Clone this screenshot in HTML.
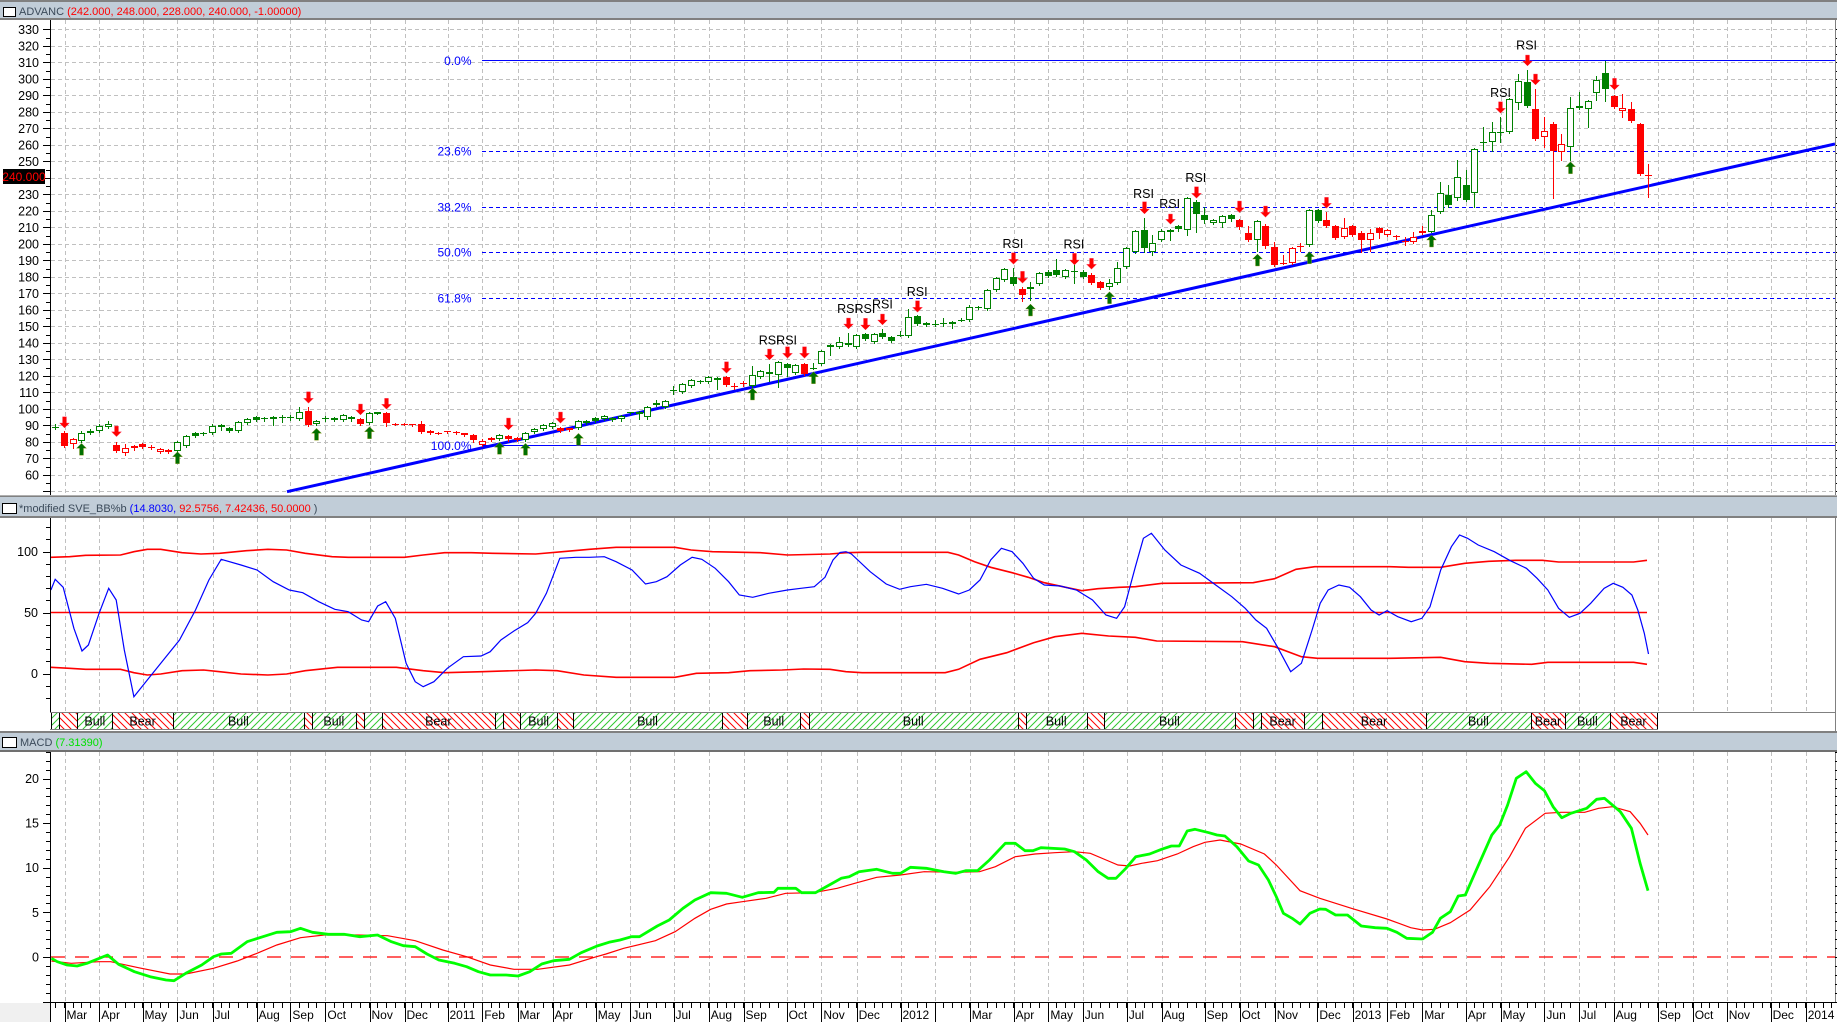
<!DOCTYPE html>
<html><head><meta charset="utf-8">
<style>
html,body{margin:0;padding:0;background:#fff;}
svg{display:block;font-family:"Liberation Sans",Arial,sans-serif;}
</style></head><body>
<svg id="c" width="1837" height="1022" viewBox="0 0 1837 1022" xmlns="http://www.w3.org/2000/svg">
<defs>
<pattern id="hg" width="7" height="7" patternUnits="userSpaceOnUse"><path d="M0,7 L7,0 M-1,1 L1,-1 M6,8 L8,6" stroke="#30c830" stroke-width="1"/></pattern>
<pattern id="hr" width="7" height="7" patternUnits="userSpaceOnUse"><path d="M0,0 L7,7 M-1,6 L1,8 M6,-1 L8,1" stroke="#ff0000" stroke-width="1"/></pattern>
<clipPath id="cp1"><rect x="51" y="20" width="1784" height="475"/></clipPath>
</defs>
<rect width="1837" height="1022" fill="#fff"/>
<g id="grid" shape-rendering="crispEdges"></g>

<!-- Fibonacci lines -->
<g stroke="#0000ff" stroke-width="1" shape-rendering="crispEdges">
<line x1="482" y1="60.5" x2="1835" y2="60.5"/>
<line x1="482" y1="151.5" x2="1835" y2="151.5" stroke-dasharray="4,3"/>
<line x1="482" y1="207.5" x2="1835" y2="207.5" stroke-dasharray="4,3"/>
<line x1="482" y1="252.5" x2="1835" y2="252.5" stroke-dasharray="4,3"/>
<line x1="482" y1="298.5" x2="1835" y2="298.5" stroke-dasharray="4,3"/>
<line x1="482" y1="445.5" x2="1835" y2="445.5"/>
</g>
<!-- trendline -->
<g clip-path="url(#cp1)"><line x1="287" y1="491.7" x2="1835" y2="144" stroke="#0000ff" stroke-width="3"/></g>

<g id="candles" shape-rendering="crispEdges"></g>
<g id="arrows"></g>

<!-- SVE panel lines -->
<line x1="51" y1="612.5" x2="1647" y2="612.5" stroke="#ff0000" stroke-width="1.6"/>
<polyline fill="none" stroke="#ff0000" stroke-width="1.6" points="50.9,557.3 69.6,556.7 85.7,555.3 120.5,555 133.9,551.7 147.3,549.3 160.7,549.3 182.1,552.7 200.9,554 219.6,553.3 246.4,550.7 267.9,549.3 286.6,550 305.3,553.3 332.1,556.7 348.2,557.3 404.5,557.3 423.2,555 444.6,552.7 471.4,552.7 492.8,553.3 535.7,554 562.5,551.7 589.3,549.3 616.1,547.3 675,547.3 691.1,550 712.5,551.7 760.7,552.7 787.5,555 830,554 846,552.7 862.1,552.3 947.9,552.3 958.6,555 974.6,561.7 990.7,567.3 1012.1,572.7 1028.2,577.3 1044.3,582.7 1065.7,587.3 1081.8,590.7 1097.9,588.7 1119.3,587.3 1135.4,586.7 1162.1,583.3 1253.2,582.7 1274.6,578.7 1296,569.3 1314.8,566.7 1389.8,566.7 1408.5,567.3 1440.7,567.3 1464.8,563.3 1488.8,561.3 1515.7,560.3 1542.5,560.3 1558.6,562 1633.6,562 1647,560.3"/>
<polyline fill="none" stroke="#ff0000" stroke-width="1.6" points="50.9,667.3 69.6,668.3 85.7,669.3 120.5,669.3 133.9,672.7 147.3,675 160.7,674 182.1,670.7 203.6,670 219.6,671.7 241.1,674 267.9,675 286.6,674 305.3,670.7 337.5,667.3 396.4,667.3 423.2,670.7 444.6,672.7 482.1,671.7 535.7,670 557.1,670.7 583.9,675 616.1,677.3 675,677.3 696.4,673.3 728.6,672.7 750,670.7 782.1,670 803.6,669 830,669.3 846,671.7 862.1,672.7 945.2,672.7 958.6,669.3 980,659.3 1006.8,652.7 1033.6,642.7 1055,636.7 1081.8,633.3 1108.6,636 1135.4,637.3 1156.8,641 1242.5,641.7 1274.6,646.7 1301.4,656.7 1317.5,658.3 1389.8,658.3 1440.7,657.3 1464.8,661.7 1488.8,663.3 1531.7,664.3 1547.8,662.3 1633.6,662.3 1647,664.3"/>
<polyline fill="none" stroke="#0000ff" stroke-width="1.2" points="50.9,590 55.2,579.3 63.2,587.3 73.9,628.3 82,651 88.4,645 99.1,613.3 108.7,588.3 116.2,600 124.3,650 133.9,696.7 147.3,680 163.4,660 179.5,640 195.5,610 208.9,580 221.2,559.3 241,565 257.1,570 273.2,581.7 289.3,590 302.7,592.7 318.7,601.7 334.8,609.3 348.2,611.7 361.6,620 368.6,621.7 377.7,606 385.7,601.7 395.3,618.3 406.1,663.3 415.2,681.7 423.2,686.7 433.9,681.7 447.3,668.3 463.4,656.7 481.1,656 490.2,651.7 500.9,640 514.3,630.7 527.7,622.7 535.7,613.3 546.4,593.3 559.8,558.3 575.9,557.3 589.3,557.3 604.3,556.7 616.1,561.7 632.1,570 645.5,584 656.3,581.7 667,576.7 680.3,565 692.1,557.3 701.8,559.3 715.2,568.3 728.6,581.7 739.3,595 752.7,597.3 768.7,593.3 787.5,590 800.9,588.3 814.3,586.7 825,577.3 833,560 840,552.5 846,551.7 851.4,554 870.2,571.7 886.2,584 899.6,589.3 910.4,586.7 926.4,584.3 942.5,588.3 958.6,594 969.3,590 980,580 990.7,560 1001.4,548.3 1012.1,551.7 1022.9,563.3 1033.6,578.3 1044.3,585 1060.3,586 1076.4,590 1092.5,600 1105.9,615 1116.6,618.3 1124.6,606.7 1135.4,566.7 1143.4,538.3 1151.4,533.3 1164.8,550 1180.9,565 1199.6,573.3 1215.7,585 1231.8,596.7 1245.2,608.3 1255.9,620 1266.6,628.3 1277.3,646.7 1290.7,671.7 1301.4,663.3 1312.1,630 1320.2,603.3 1328.2,590 1338.9,585 1349.6,587.3 1360.4,596.7 1371.1,610 1379.1,615 1387.1,610.7 1397.8,616.7 1411.2,621.7 1421.9,618.3 1430,606.7 1440.7,570 1451.4,546.7 1459.5,535 1467.5,538.3 1478.2,545 1494.3,551.7 1510.3,560.7 1526.4,568.3 1537.1,578.3 1547.8,590 1558.6,608.3 1569.3,617.3 1580,613.3 1590.7,603.3 1604.1,588.3 1613.2,583.3 1622.9,587.3 1631.9,595 1637.8,610 1644.3,633.3 1648.5,654"/>

<g id="band" shape-rendering="crispEdges"></g>

<!-- MACD -->
<line x1="51" y1="957" x2="1835" y2="957" stroke="#ff0000" stroke-width="1.3" stroke-dasharray="14,10"/>
<polyline fill="none" stroke="#ff0000" stroke-width="1.2" points="51.4,961 71.2,963.3 98.9,961.7 110.7,961.7 138.4,967.7 170,974 185.8,974 213.5,968.3 237.2,961 257,953.3 276.8,945 300.5,937.7 324.2,935 355.9,935 387.5,935.7 415.2,940.7 442.8,950 466.6,956.7 490.3,965 514,969.3 537.7,969.3 569.4,965 593.1,957.7 606,954 623.7,948.3 655.4,940.7 675.1,931.7 694.9,918.3 710.7,909.3 726.5,904 742.3,901.7 766.1,898.3 785.8,893.3 813.5,892.7 837.2,888.3 857,882.7 876.8,877.3 900.5,875 924.2,871.7 955.9,872.3 979.6,871.7 995.4,866.7 1015.2,856.7 1035,854 1054.7,852.7 1074.5,851.7 1090.3,853.3 1106.1,860 1118,865 1129.8,866 1141.7,863.3 1157.5,860.7 1177.3,854 1193.1,846.7 1205,842.3 1220,840 1240.7,844 1264.4,854 1276.3,865 1300,890.7 1319.8,898.3 1351.4,908.3 1387,919 1410.7,927.7 1422.6,930 1434.5,929.3 1450.3,922.7 1470.1,910 1489.8,886.7 1509.6,856.7 1525.4,828.3 1545.2,813.3 1561,812.3 1584.7,812.3 1598.6,808.3 1612.4,806.7 1630.2,811.7 1640.1,823.3 1648,835"/>
<polyline fill="none" stroke="#00ff00" stroke-width="2.8" stroke-linejoin="round" points="51.4,958.3 57.3,961.7 67.2,965 77.1,966 87,963.3 96.9,959.3 107.5,955 118.6,964.3 134.4,971.7 150.2,976.7 166.1,980 174,980.7 185.8,973.3 201.7,965 213.5,956.7 221.4,954 231.3,953.3 247.1,941.7 262.9,936.7 276.8,932.3 290.6,931.7 300.5,928.3 312.4,932.3 328.2,934.3 344,934.3 359.8,936.7 377.6,935 391.4,941.7 403.3,945.7 415.2,946.7 427,954 438.9,960 454.7,963.3 466.6,966.7 478.4,971.7 490.3,975 506.1,975 518,976 529.8,971.7 541.7,964 553.6,960.7 569.4,959.3 581.2,952.7 597.1,946 608.9,942.3 620,940 631.6,936.7 639.5,936.7 657.3,926 669.2,920 683,908.3 694.9,900 710.7,892.7 726.5,893.3 742.3,897.3 758.2,892.7 774,892.3 777.9,888.3 795.7,888.3 801.7,892.7 815.5,892.7 829.3,885 841.2,878.3 849.1,876.7 859,871.7 876.8,869.3 892.6,873.3 900.5,873.3 910.4,867.3 926.2,868.3 944,871.7 955.9,873.3 965.7,870.7 977.6,870.7 989.5,860 1005.3,843.3 1015.2,843.3 1025.1,850.7 1033,850.7 1040.9,847.7 1064.6,849 1074.5,851.7 1086.3,860 1098.2,871.7 1108.1,878.3 1116,878.3 1125.9,868.3 1135.8,856.7 1149.6,854 1161.5,849.3 1171.4,846 1179.3,846 1187.2,831 1195.1,829.3 1208.9,832.7 1217,835 1224.9,836 1236.8,846.7 1248.6,861 1258.5,865 1268.4,880 1276.3,896.7 1283.4,913.3 1292.1,918.3 1300,924 1309.9,913.3 1319.8,909 1325.7,909.3 1335.6,915 1347.5,915 1361.3,926 1375.2,927.7 1387,928.3 1396.9,932.3 1406.8,938.3 1422.6,939 1432.5,932.3 1440.4,918.3 1450.3,911.7 1458.2,896 1465.3,895 1476,870.7 1491.8,835 1499.7,825 1507.6,805 1516.3,778.3 1526.2,771.7 1535.3,783.3 1544.4,790.7 1553.1,806.7 1561.8,817.7 1570.9,813.3 1586.7,808.3 1596.6,799.3 1604.5,798.3 1620.3,811.7 1631.4,828.3 1640.1,863.3 1648,890.7"/>

<g id="axes" shape-rendering="crispEdges"></g>

<!-- Title bars -->
<g shape-rendering="crispEdges">
<rect x="0" y="0" width="1837" height="2" fill="#808080"/>
<rect x="0" y="2" width="1837" height="16" fill="#c1cdd8"/>
<rect x="0" y="18" width="1837" height="2" fill="#808080"/>
<rect x="3.5" y="7.5" width="12" height="9" fill="#fff" stroke="#000"/>

<rect x="0" y="495" width="1837" height="1" fill="#b0b0b0"/>
<rect x="0" y="496" width="1837" height="1" fill="#808080"/>
<rect x="0" y="497" width="1837" height="19" fill="#c1cdd8"/>
<rect x="0" y="516" width="1837" height="2" fill="#808080"/>
<rect x="2.5" y="503.5" width="14" height="10" fill="#fff" stroke="#000"/>

<rect x="0" y="731" width="1837" height="2" fill="#808080"/>
<rect x="0" y="733" width="1837" height="17" fill="#c1cdd8"/>
<rect x="0" y="750" width="1837" height="2" fill="#707070"/>
<rect x="2.5" y="737.5" width="14" height="10" fill="#fff" stroke="#000"/>
</g>
<text x="19" y="15" font-size="11" fill="#3b4a5a">ADVANC <tspan fill="#ff0000">(242.000, 248.000, 228.000, 240.000, -1.00000)</tspan></text>
<text x="19" y="512" font-size="11" fill="#3b4a5a">*modified SVE_BB%b <tspan fill="#0000ff">(14.8030,</tspan> <tspan fill="#ff0000">92.5756, 7.42436, 50.0000</tspan> )</text>
<text x="20" y="746" font-size="11" fill="#3b4a5a">MACD <tspan fill="#00e000">(7.31390)</tspan></text>

<!-- price axis labels -->
<g font-size="12.5" fill="#000" text-anchor="end">
<text x="39" y="33.8">330</text><text x="39" y="50.3">320</text><text x="39" y="66.8">310</text><text x="39" y="83.3">300</text><text x="39" y="99.8">290</text><text x="39" y="116.3">280</text><text x="39" y="132.8">270</text><text x="39" y="149.3">260</text><text x="39" y="165.8">250</text><text x="39" y="198.8">230</text><text x="39" y="215.3">220</text><text x="39" y="231.8">210</text><text x="39" y="248.3">200</text><text x="39" y="264.8">190</text><text x="39" y="281.3">180</text><text x="39" y="297.8">170</text><text x="39" y="314.3">160</text><text x="39" y="330.8">150</text><text x="39" y="347.3">140</text><text x="39" y="363.8">130</text><text x="39" y="380.3">120</text><text x="39" y="396.8">110</text><text x="39" y="413.3">100</text><text x="39" y="429.8">90</text><text x="39" y="446.3">80</text><text x="39" y="462.8">70</text><text x="39" y="479.3">60</text>
<text x="38" y="556">100</text><text x="38" y="617">50</text><text x="38" y="678">0</text>
<text x="39" y="783">20</text><text x="39" y="827.6">15</text><text x="39" y="872.2">10</text><text x="39" y="916.8">5</text><text x="39" y="961.4">0</text>
</g>
<rect x="3" y="169" width="42" height="15" fill="#000"/>
<text x="24" y="181" font-size="12" fill="#ff0000" text-anchor="middle">240.000</text>

<!-- Fib labels -->
<g font-size="12" fill="#0000ff" text-anchor="end">
<text x="471.5" y="65">0.0%</text>
<text x="471.5" y="155.6">23.6%</text>
<text x="471.5" y="211.6">38.2%</text>
<text x="471.5" y="256.6">50.0%</text>
<text x="471.5" y="302.6">61.8%</text>
<text x="471.5" y="450">100.0%</text>
</g>

<!-- RSI labels -->
<g font-size="12.5" fill="#000" text-anchor="middle">
<text x="769.2" y="344.5">RSI</text>
<text x="786.6" y="344.5" >RSI</text>
<text x="847.5" y="312.8">RSI</text>
<text x="864.9" y="312.8">RSI</text>
<text x="882.4" y="308.5">RSI</text>
<text x="917.2" y="296.2">RSI</text>
<text x="1012.9" y="247.8">RSI</text>
<text x="1073.9" y="248.5">RSI</text>
<text x="1143.5" y="197.8">RSI</text>
<text x="1169.7" y="207.8">RSI</text>
<text x="1195.8" y="181.8">RSI</text>
<text x="1500.5" y="96.8">RSI</text>
<text x="1526.6" y="49.5">RSI</text>
</g>

<!-- Band labels -->
<g font-size="12.5" fill="#000" text-anchor="middle">
<text x="94.8" y="725.5">Bull</text><text x="142.6" y="725.5">Bear</text><text x="238.4" y="725.5">Bull</text><text x="333.8" y="725.5">Bull</text><text x="438.3" y="725.5">Bear</text><text x="538.6" y="725.5">Bull</text><text x="647.5" y="725.5">Bull</text><text x="773.7" y="725.5">Bull</text><text x="913.2" y="725.5">Bull</text><text x="1056.2" y="725.5">Bull</text><text x="1169.4" y="725.5">Bull</text><text x="1282.6" y="725.5">Bear</text><text x="1374" y="725.5">Bear</text><text x="1478.4" y="725.5">Bull</text><text x="1548" y="725.5">Bear</text><text x="1587.4" y="725.5">Bull</text><text x="1633.4" y="725.5">Bear</text>
</g>

<!-- X axis labels -->
<g font-size="12" fill="#000">
<text x="66.5" y="1019">Mar</text><text x="101.3" y="1019">Apr</text><text x="144.5" y="1019">May</text><text x="179.4" y="1019">Jun</text><text x="214.5" y="1019">Jul</text><text x="258.5" y="1019">Aug</text><text x="292.4" y="1019">Sep</text><text x="327.4" y="1019">Oct</text><text x="371.5" y="1019">Nov</text><text x="406.5" y="1019">Dec</text><text x="449.5" y="1019">2011</text><text x="484.3" y="1019">Feb</text><text x="519.5" y="1019">Mar</text><text x="554.5" y="1019">Apr</text><text x="597.8" y="1019">May</text><text x="632.4" y="1019">Jun</text><text x="675.5" y="1019">Jul</text><text x="710.7" y="1019">Aug</text><text x="745.5" y="1019">Sep</text><text x="788.6" y="1019">Oct</text><text x="823.4" y="1019">Nov</text><text x="858.6" y="1019">Dec</text><text x="902.5" y="1019">2012</text><text x="971.7" y="1019">Mar</text><text x="1015.6" y="1019">Apr</text><text x="1050.4" y="1019">May</text><text x="1084.8" y="1019">Jun</text><text x="1128.7" y="1019">Jul</text><text x="1163.5" y="1019">Aug</text><text x="1206.6" y="1019">Sep</text><text x="1241.5" y="1019">Oct</text><text x="1276.7" y="1019">Nov</text><text x="1319.4" y="1019">Dec</text><text x="1354.6" y="1019">2013</text><text x="1389.4" y="1019">Feb</text><text x="1424.2" y="1019">Mar</text><text x="1467.7" y="1019">Apr</text><text x="1502.5" y="1019">May</text><text x="1546.4" y="1019">Jun</text><text x="1580.8" y="1019">Jul</text><text x="1615.6" y="1019">Aug</text><text x="1659.5" y="1019">Sep</text><text x="1694.7" y="1019">Oct</text><text x="1728.7" y="1019">Nov</text><text x="1772.6" y="1019">Dec</text><text x="1807.7" y="1019">2014</text>
</g>
</svg>
<script>
(function(){
var MB=[64.5,99.3,142.5,177.4,212.5,256.5,290.4,325.4,369.5,404.5,447.5,482.3,517.5,552.5,595.8,630.4,673.5,708.7,743.5,786.6,821.4,856.6,900.5,934.5,969.7,1013.6,1048.4,1082.8,1126.7,1161.5,1204.6,1239.5,1274.7,1317.4,1352.6,1387.4,1422.2,1465.7,1500.5,1544.4,1578.8,1613.6,1657.5,1692.7,1726.7,1770.6,1805.7];
function X(i){return 55.3+8.706*i;}
function ln(a,b,c,d,s,w,da){return '<line x1="'+a+'" y1="'+b+'" x2="'+c+'" y2="'+d+'" stroke="'+s+'" stroke-width="'+(w||1)+'"'+(da?' stroke-dasharray="'+da+'"':'')+'/>';}
var s='';
for(var v=50;v<=330;v+=10){var y=Math.round(29.3+(330-v)*1.65)+0.5;s+=ln(51,y,1835,y,'#c0c0c0',1,'4,3');}
for(var k=0;k<MB.length;k++){var x=Math.round(MB[k])+0.5;
 s+=ln(x,20,x,495,'#c0c0c0',1,'4,3');
 s+=ln(x,518,x,712,'#c0c0c0',1,'4,3');
 s+=ln(x,752,x,1002,'#c0c0c0',1,'4,3');}
document.getElementById('grid').innerHTML=s;

var D=[
['gc',426.7,426.7,424,429],['r',433.3,445.7,431,446.5],['R',439.3,444,438,448.3],['G',433.3,440.7,431,442],['G',430.7,433.3,429,434],['G',426,431,424,432],['G',424,427.3,421.3,428],['r',445,450.7,441.7,451.7],['R',448.3,453.3,444.3,454.7],['r',446,447.7,445,450],
['r',444,446.7,443,447.5],['rc',447,447,445,449],['R',449,452.3,448,453],['r',449.7,451.7,448.5,452.5],['G',442.3,450.7,441,451.5],['G',436,445.7,435,446.5],['g',433.3,436.3,432,437],['gc',433.3,433.3,432,435],['G',425.7,433.3,424,434],['g',425,427.3,423.5,430],
['g',428,430.7,427,431.5],['G',422.3,431,421,432],['G',419.3,423.3,418,424],['g',417.3,420,416,421],['g',418,419.3,417,420.5],['g',417.3,419.3,416,424.7],['g',416.7,418.3,415,422],['g',416.7,418.3,415,420],['G',412,418.7,407.3,419.5],['r',411,425,406.7,426],
['G',421,424.3,419.5,425],['g',417.7,419.3,416,420.5],['g',418.3,420,417,421],['G',415.3,420,414,421],['g',416.7,419.3,415.5,420.5],['r',419.3,424,418,425],['G',413.3,423.3,411.5,424],['g',412.3,413.5,411.5,414],['r',413.3,422.7,412,426],['rc',424,424,423,425],
['rc',424,424,423,425],['r',424,425.3,423.5,426],['r',424.3,432.3,421,433],['R',430.7,433.3,429.5,434],['rc',432.7,432.7,431.5,433.5],['r',431.3,432.3,430.5,433],['r',432,433,431,434],['r',433.3,435,432.5,436],['r',435,439.7,434,442],['R',440.7,445.3,439,446],
['r',438,439.7,437,441],['G',434.7,439.3,433.5,440],['r',436,439.3,435,440.5],['r',438,440.3,437,441],['G',433.3,440.3,432,441],['G',429,432.3,428,433],['G',425,429.3,424,430],['G',423.3,426.7,422,427.5],['r',427.7,430.7,427,431.5],['r',428,430,427.5,431],
['G',421,428,420,429],['G',420.7,423,419.5,423.5],['g',418.3,420.7,417,421.5],['G',416.3,419,415,420],['g',418.3,419.7,417,421],['G',416.3,419,415,421],['g',412.3,413.3,411.5,414],['g',412,414.3,411,419.3],['G',406.7,417.3,405.5,418.5],['g',402.7,405,399.7,406],
['G',400.7,406.7,400,407.5],['gc',390,390,386,394],['G',384,391.7,383,392.5],['G',380,385.7,379,386.5],['gc',381.3,381.3,379.5,383],['G',376.7,382.3,375.5,383],['g',378.3,380,377,389.3],['r',377.3,385,376,386],['rc',386,386,383,389],['rc',383.3,383.3,381,386],
['G',375.3,385.7,366,386.5],['G',371,376.7,370,377.5],['g',372.3,374.3,364.3,381],['G',362,375.3,361,387.3],['g',364.3,368.3,363,376],['G',365,373.3,364,374],['r',364.3,374.3,362.5,375],['gc',367.7,367.7,363,369],['G',350.7,364,349.5,365],['g',345,347.3,344,355],
['G',341.7,347.3,337,348],['g',343.3,345,332.7,346],['G',335,346.7,334,347.5],['g',334,339,333,340],['G',334.3,342.3,333,343],['g',333.3,336.7,329,337.5],['g',337,341,336,342],['gc',335,335,331,336],['G',317.3,336,309.3,337],['g',316,324.3,315,325],
['G',322.7,325.3,321.5,326],['gc',323.7,323.7,320,326],['gc',323.3,323.3,318,326],['G',321.7,323.7,320.5,328],['gc',320,320,318,321],['G',306.7,320.3,305,321],['g',306.7,308.3,305.5,309],['G',290,309.3,288.5,310],['G',278.3,290,277,291],['G',269.3,280,268,281],
['g',276.7,284.3,268,285],['r',288.7,295,287,301],['G',286.7,289.3,282,300],['G',273.3,284,272,285],['g',271.7,275.7,270,276.5],['g',270,275,259,276],['G',270,276.7,269,278],['gc',270.7,270.7,262,283],['g',272.3,276.7,270,278],['r',275,283.3,273,284],
['r',281.7,288.3,280.5,289],['G',282.7,287.3,279,289],['G',268.3,282.7,262,283.5],['G',248.3,267.3,247,268],['G',230.7,251.7,229.5,252.5],['g',230,247.7,218,252],['G',243.3,251.7,235,255],['G',230.7,240,229,241],['g',230,231.7,229,240],['g',226,229.3,225,231],
['G',198.3,230,197,235],['g',201.7,214.3,200,232],['g',215.3,220,207,223],['G',220,223.3,219,224],['G',216,223.3,215,227],['g',215.3,219.3,214,220.5],['r',220,227.3,219,229],['r',233.3,240,226,241],['G',221,240,220,251],['r',226,246,224,248],
['r',247.3,265.3,241.5,266],['rc',262.7,262.7,255,264],['R',248.3,263.3,247,264],['rc',246,246,243,251],['G',210,245,209,246],['g',210,220.7,209,221.5],['r',220,226,212,227],['r',226,237.7,225,238.5],['R',228.3,236.7,218,237.5],['r',226,235,225,236],
['r',233.3,240,231,252],['R',233.3,240,229,251],['r',228.3,232.7,227,238],['R',230,235,228.5,235.5],['r',235.7,237.3,234.5,239],['rc',240.7,240.7,236.5,245],['R',236.7,241.7,232,242.5],['R',231,233.3,226.3,234],['G',215,231.7,210,232],['G',193.3,211.7,182.3,213],
['g',195,205,185,207],['G',177.3,198.3,160,199.5],['g',185,200,170,201],['G',149.3,193.3,148,206.7],['gc',141.7,141.7,127.3,150],['G',131.7,142.3,122.3,151],['g',132.3,133.3,117.3,142],['G',99.3,132.3,98,133],['G',80.7,103.3,74.3,109],['g',81.7,105.7,70,107],
['r',109.3,138.7,89.3,139.5],['R',131,137.3,116.7,146.7],['r',124.3,151,121.7,197.7],['R',144.3,152.3,134,160],['G',108.3,147.3,96.7,160],['G',106.3,108.3,91.7,109],['G',101.3,109.3,100,126.7],['G',80.3,93.3,76,100],['g',73.3,88.7,60.7,101],['r',96,107.3,95,108],
['R',108.3,111,94,117],['r',109.3,120.7,101.7,121.5],['r',124.3,174.3,123,175],['rc',175,175,164,196.7]
];
var c='';
for(var i=0;i<D.length;i++){
 var d=D[i],t=d[0],col=(t.charAt(0).toLowerCase()=='g')?'#008000':'#ff0000';
 var xc=Math.round(X(i)),xm=xc+0.5;
 var top=Math.round(d[1]),bot=Math.round(d[2]),hi=Math.round(d[3]),lo=Math.round(d[4]);
 c+=ln(xm,hi,xm,lo+1,col,1);
 if(t=='gc'||t=='rc'){c+='<rect x="'+(xc-3)+'" y="'+top+'" width="7" height="1" fill="'+col+'"/>';}
 else if(t=='g'||t=='r'){var h=Math.max(bot-top,1);c+='<rect x="'+(xc-3)+'" y="'+top+'" width="7" height="'+h+'" fill="'+col+'"/>';}
 else {var h2=Math.max(bot-top,2);c+='<rect x="'+(xc-2.5)+'" y="'+(top+0.5)+'" width="6" height="'+(h2-1)+'" fill="#fff" stroke="'+col+'" stroke-width="1"/>';}
}
document.getElementById('candles').innerHTML=c;

var RA=[[1,416.7,428],[7,426,436.7],[29,391.7,403.3],[35,404,415],[38,398.3,409.3],[52,418,430],[58,412,423.3],[77,361.7,373.3],[82,349,360],[84,346.7,358.3],[86,346.7,358.3],[91,318,329],[93,318.3,330],[95,314,325],[99,300.7,312.3],[110,252.7,264.3],[111,271.3,283.3],[117,253.3,265],[119,258.3,269.3],[125,201.7,214],[128,214,224.3],[131,186.7,198.3],[136,201,212.7],[139,206,217.3],[146,197.3,208.3],[166,101.7,113.3],[169,55,66],[170,74,85],[179,78.3,90]];
var GA=[[3,443.3],[14,451.7],[30,428.3],[36,426.7],[51,442.3],[54,443.3],[60,433.3],[80,388],[87,371.7],[112,304],[121,291.7],[138,254],[144,251.7],[158,235],[174,161.7]];
var a='';
for(var j=0;j<RA.length;j++){var x=Math.round(X(RA[j][0]))+0.5,yt=RA[j][1],yb=RA[j][2];
 a+='<path d="M'+(x-2)+' '+yt+' H'+(x+2)+' V'+(yb-5)+' H'+(x+5)+' L'+x+' '+yb+' L'+(x-5)+' '+(yb-5)+' H'+(x-2)+' Z" fill="#ff0000" stroke="#ff6080" stroke-width="0.4"/>';}
for(var j2=0;j2<GA.length;j2++){var x2=Math.round(X(GA[j2][0]))+0.5,yt2=GA[j2][1],yb2=yt2+12;
 a+='<path d="M'+(x2-2)+' '+yb2+' H'+(x2+2)+' V'+(yt2+5)+' H'+(x2+5)+' L'+x2+' '+yt2+' L'+(x2-5)+' '+(yt2+5)+' H'+(x2-2)+' Z" fill="#007000" stroke="#a0a030" stroke-width="0.4"/>';}
document.getElementById('arrows').innerHTML=a;

var BS=[[50.9,59,'g'],[59,77.4,'r'],[77.4,112.2,'g'],[112.2,173.1,'r'],[173.1,303.8,'g'],[303.8,312.1,'r'],[312.1,355.6,'g'],[355.6,364,'r'],[364,381.5,'g'],[381.5,495.2,'r'],[495.2,503.3,'g'],[503.3,520.3,'r'],[520.3,556.9,'g'],[556.9,573.2,'r'],[573.2,721.8,'g'],[721.8,747.2,'r'],[747.2,800.3,'g'],[800.3,808.6,'r'],[808.6,1017.8,'g'],[1017.8,1025.7,'r'],[1025.7,1086.7,'g'],[1086.7,1104.2,'r'],[1104.2,1234.6,'g'],[1234.6,1252.9,'r'],[1252.9,1260.8,'g'],[1260.8,1304.4,'r'],[1304.4,1321.8,'g'],[1321.8,1426.2,'r'],[1426.2,1530.6,'g'],[1530.6,1565.3,'r'],[1565.3,1609.5,'g'],[1609.5,1657.3,'r']];
var b='';
b+=ln(50,712.5,1835,712.5,'#808080',1);
for(var m=0;m<BS.length;m++){var x0=Math.round(BS[m][0]),x1=Math.round(BS[m][1]);
 b+='<rect x="'+x0+'" y="713" width="'+(x1-x0)+'" height="16" fill="url(#'+(BS[m][2]=='g'?'hg':'hr')+')"/>';}
for(var m2=0;m2<BS.length;m2++){var xx=Math.round(BS[m2][0])+0.5;b+=ln(xx,713,xx,729,'#000',1);}
b+=ln(1657.5,713,1657.5,729,'#000',1);
b+=ln(50,729.5,1658,729.5,'#808080',1);
document.getElementById('band').innerHTML=b;

var ax='';
ax+=ln(50.5,20,50.5,495,'#000',1);
for(var v2=50;v2<=330;v2+=5){var y2=Math.round(29.3+(330-v2)*1.65)+0.5;ax+=ln(v2%10==0?43:46,y2,50,y2,'#000',1);ax+=ln(1835,y2,1837,y2,'#000',1);}
ax+=ln(1835.5,20,1835.5,1003,'#808080',1);
ax+=ln(50.5,518,50.5,712,'#000',1);
for(var v3=-20;v3<=120;v3+=10){var y3=Math.round(673.5-1.22*v3)+0.5;ax+=ln(v3%50==0?43:46,y3,50,y3,'#000',1);}
ax+=ln(50.5,752,50.5,1003,'#000',1);
for(var v4=-5;v4<=23;v4++){var y4=Math.round(957-8.92*v4)+0.5;ax+=ln(v4%5==0?43:46,y4,50,y4,'#000',1);ax+=ln(1835,y4,1837,y4,'#000',1);}
ax+='<rect x="0" y="1003" width="50" height="19" fill="#f0f0f0"/>';
ax+=ln(50,1002.5,1836,1002.5,'#000',1);
ax+=ln(50.5,1003,50.5,1022,'#000',1);
for(var w=0;X(w)<1835;w++){var xw=Math.round(X(w))+0.5;ax+=ln(xw,1003,xw,1008,'#000',1);}
for(var k2=0;k2<MB.length;k2++){var xm2=Math.round(MB[k2])+0.5;ax+=ln(xm2,1003,xm2,1022,'#000',1);}
document.getElementById('axes').innerHTML=ax;
})();
</script>
</body></html>
